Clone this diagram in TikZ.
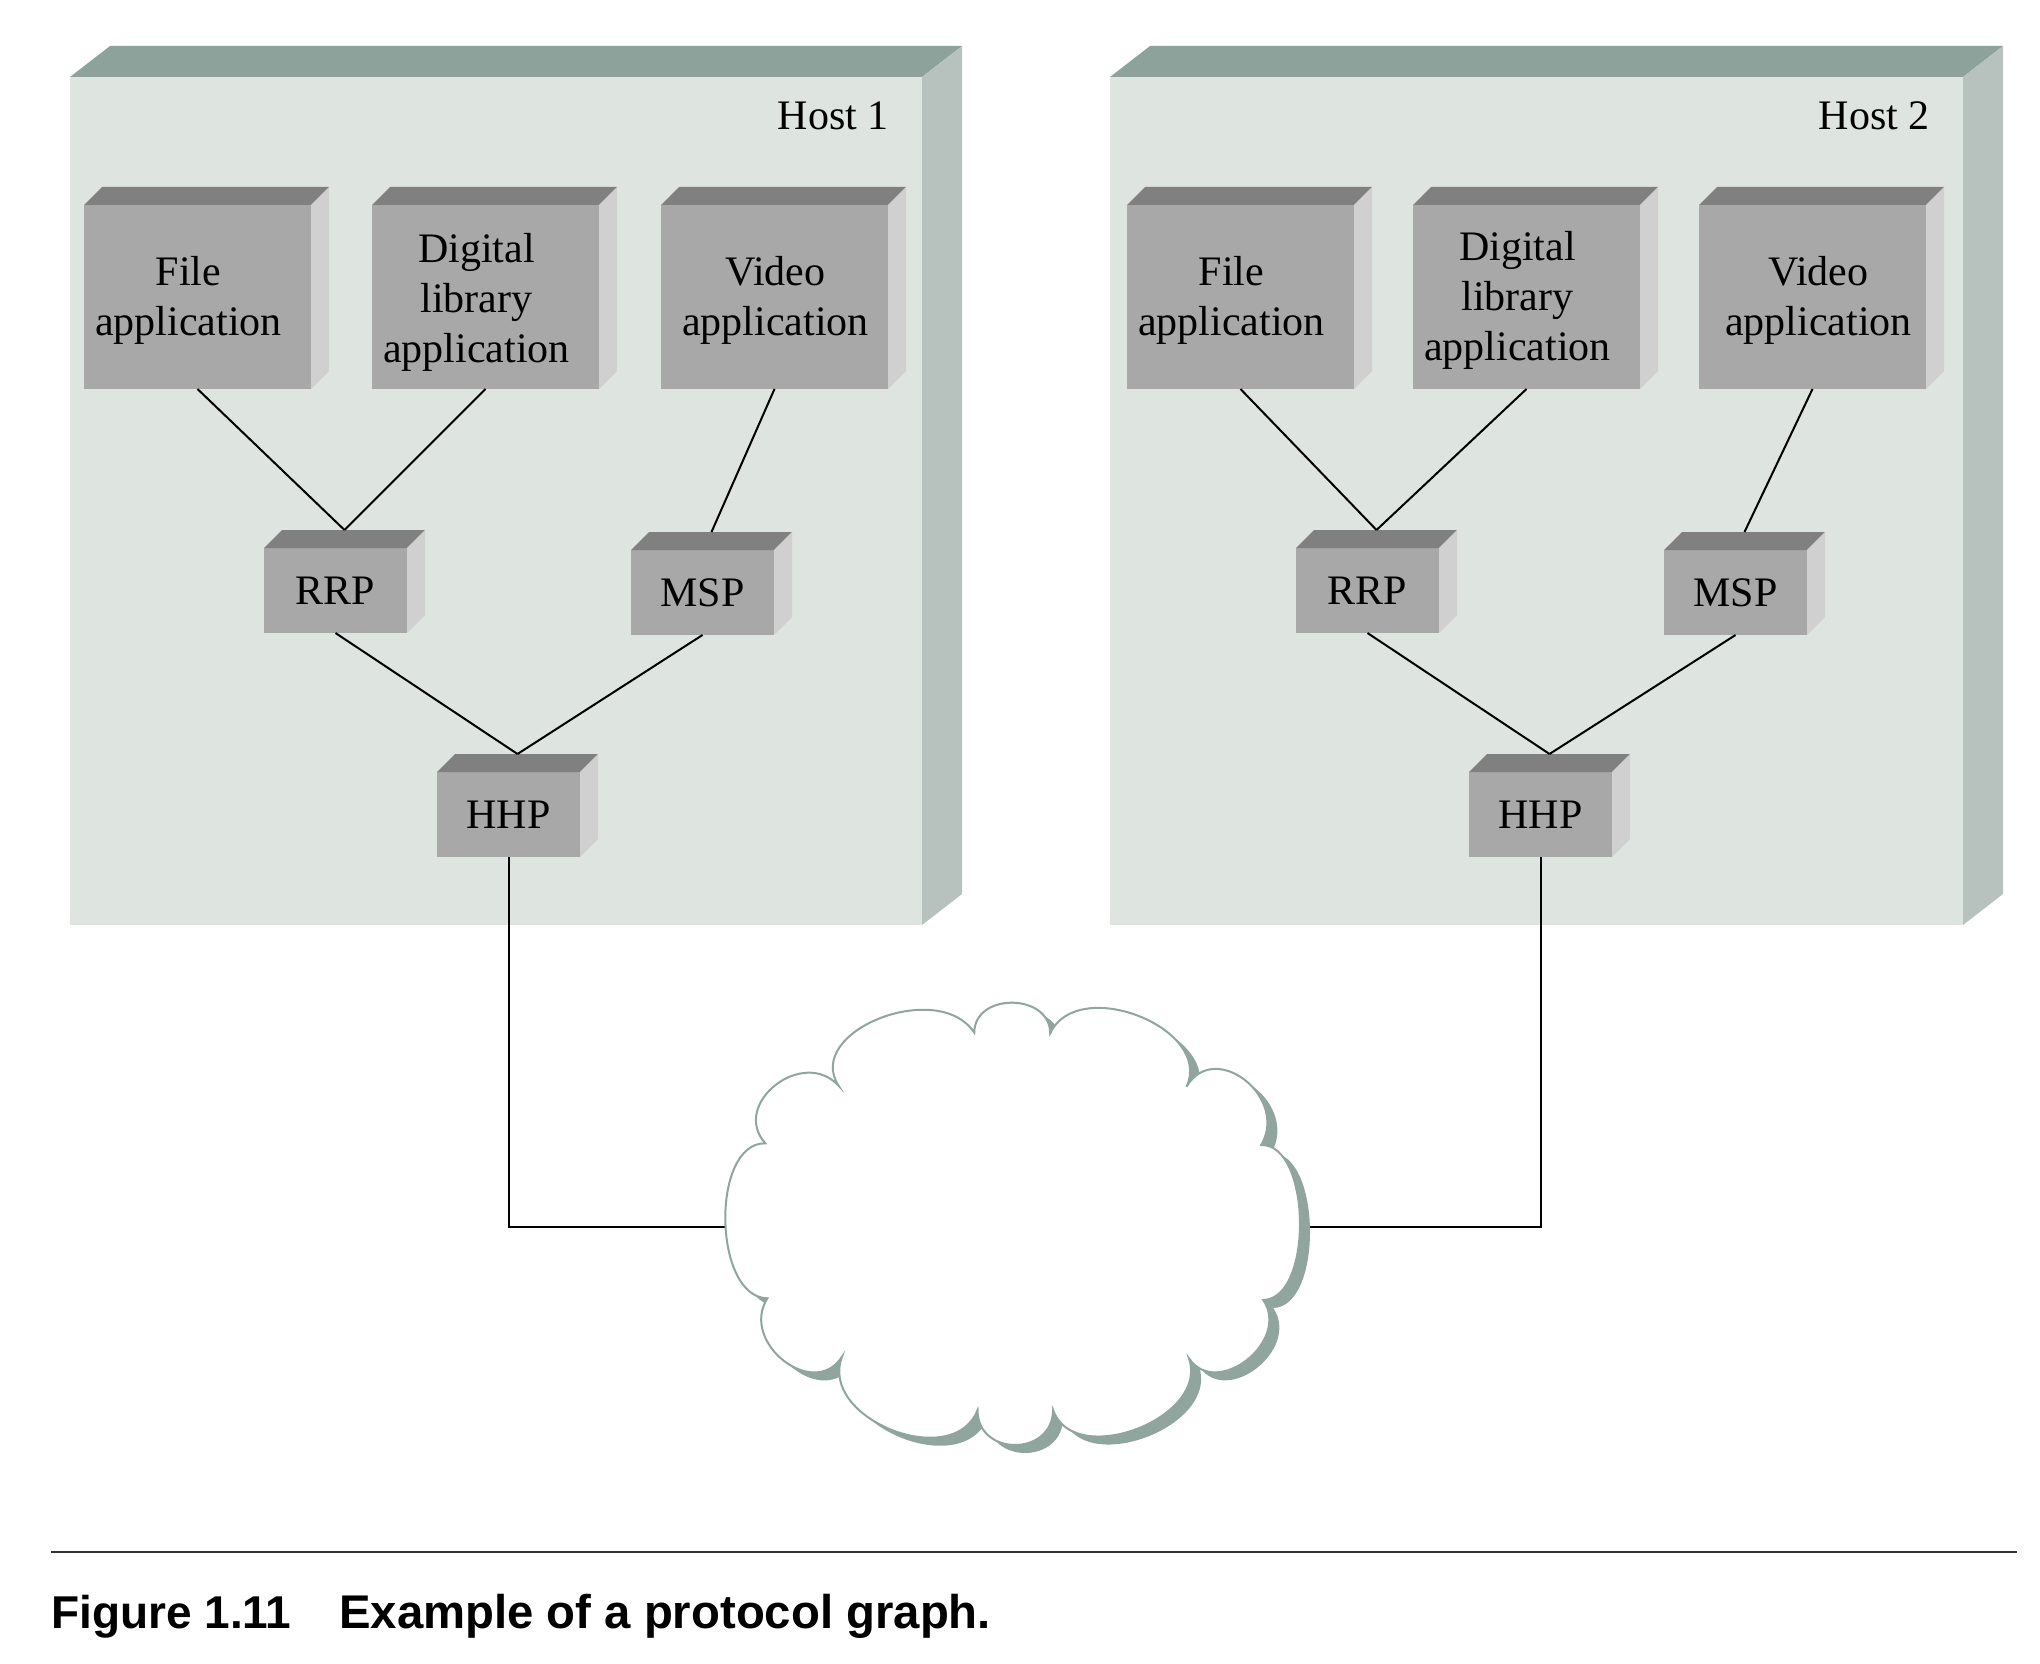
\documentclass[tikz,border=0pt]{standalone}
\usepackage{fontspec}
\usepackage{graphicx}
\setmainfont{Liberation Serif}
\newfontfamily\capfont{Liberation Sans}
\usetikzlibrary{calc}
\definecolor{hostfront}{HTML}{DEE4E0}
\definecolor{hosttop}{HTML}{8DA29B}
\definecolor{hostside}{HTML}{B7C2BE}
\definecolor{boxfront}{HTML}{A8A8A8}
\definecolor{boxtop}{HTML}{808080}
\definecolor{boxside}{HTML}{D0D0D0}
\definecolor{cloudc}{HTML}{8FA59E}
\newcommand\mkfaces[4]{%
  \fill[#4top] (#1.north west) -- ++(#2,-#3) -- ($(#1.north east)+(#2,-#3)$) -- (#1.north east) -- cycle;
  \fill[#4side] (#1.north east) -- ($(#1.north east)+(#2,-#3)$) -- ($(#1.south east)+(#2,-#3)$) -- (#1.south east) -- cycle;
}
\def\cloudpath{(340,318) .. controls (252,154) and (584,-6) .. (672,158)
 .. controls (672,36.7) and (858,38.7) .. (858,160)
 .. controls (924.7,-16) and (1258.7,144) .. (1192,320)
 .. controls (1260.7,176.7) and (1443.7,351.7) .. (1375,495)
 .. controls (1498.3,491.7) and (1503.3,956.7) .. (1380,960)
 .. controls (1448,1083.3) and (1266,1258.3) .. (1198,1135)
 .. controls (1249.3,1314.3) and (916.3,1469.3) .. (865,1290)
 .. controls (864.3,1430) and (679.3,1430) .. (680,1290)
 .. controls (621.3,1476.7) and (289.3,1316.7) .. (348,1130)
 .. controls (279.3,1262.7) and (96.3,1087.7) .. (165,955)
 .. controls (31,951.7) and (26,486.7) .. (160,490)
 .. controls (73.3,371.3) and (253.3,199.3) .. (340,318) -- cycle}
\begin{document}
\begin{tikzpicture}[x=1pt,y=-1pt,
  hostbox/.style={fill=hostfront, inner sep=0, outer sep=0, anchor=north west, minimum height=848pt},
  appbox/.style={fill=boxfront, inner sep=0, outer sep=0, anchor=north west, minimum width=227pt, minimum height=184pt},
  apptext/.style={inner sep=0, align=center, font={\fontsize{42}{50}\selectfont}},
  protobox/.style={fill=boxfront, inner sep=0, outer sep=0, anchor=north west, minimum width=143pt, minimum height=85pt, font={\fontsize{42}{50}\selectfont}},
  hostlabel/.style={inner sep=0, anchor=base east, font={\fontsize{42}{50}\selectfont}},
  captext/.style={inner sep=0, anchor=base west, font={\capfont\bfseries\fontsize{46}{52}\selectfont}},
  conn/.style={line width=2pt, black},
  cloudline/.style={line width=2pt, draw=cloudc, fill=white}]
\useasboundingbox (0,0) rectangle (2040,1664);
% hosts
\node[hostbox, minimum width=852pt] (h1) at (70,77) {};
\node[hostbox, minimum width=853pt] (h2) at (1110,77) {};
\mkfaces{h1}{40}{31}{host}
\mkfaces{h2}{40}{31}{host}
\node[hostlabel] (h1l) at (889,130) {Host 1};
\node[hostlabel] (h2l) at (1930,130) {Host 2};
% application boxes
\node[appbox] (f1) at (84,205) {};
\node[appbox] (d1) at (372,205) {};
\node[appbox] (v1) at (661,205) {};
\node[appbox] (f2) at (1127,205) {};
\node[appbox] (d2) at (1413,205) {};
\node[appbox] (v2) at (1699,205) {};
\node[apptext] (f1x) at ($(f1.center)+(-9,3)$) {File\\application};
\node[apptext] (d1x) at ($(d1.center)+(-9,5)$) {Digital\\library\\application};
\node[apptext] (v1x) at ($(v1.center)+(1,3)$) {Video\\application};
\node[apptext] (f2x) at ($(f2.center)+(-9,3)$) {File\\application};
\node[apptext] (d2x) at ($(d2.center)+(-9,3)$) {Digital\\library\\application};
\node[apptext] (v2x) at ($(v2.center)+(6,3)$) {Video\\application};
% protocol boxes
\node[protobox] (r1) at (264,548) {\raisebox{-3pt}{RRP}};
\node[protobox] (m1) at (631,550) {\raisebox{-3pt}{MSP}};
\node[protobox] (hh1) at (437,772) {\raisebox{-3pt}{HHP}};
\node[protobox] (r2) at (1296,548) {\raisebox{-3pt}{RRP}};
\node[protobox] (m2) at (1664,550) {\raisebox{-3pt}{MSP}};
\node[protobox] (hh2) at (1469,772) {\raisebox{-3pt}{HHP}};
\foreach \b in {f1,d1,v1,f2,d2,v2,r1,m1,hh1,r2,m2,hh2}{\mkfaces{\b}{18}{18}{box}}
\foreach \b in {r1,m1,hh1,r2,m2,hh2}{\coordinate (\b t) at ($(\b.north)+(9,-18)$);}
% connectors
\draw[conn] (f1.south) -- (r1t);
\draw[conn] (d1.south) -- (r1t);
\draw[conn] (v1.south) -- (m1t);
\draw[conn] (r1.south) -- (hh1t);
\draw[conn] (m1.south) -- (hh1t);
\draw[conn] (f2.south) -- (r2t);
\draw[conn] (d2.south) -- (r2t);
\draw[conn] (v2.south) -- (m2t);
\draw[conn] (r2.south) -- (hh2t);
\draw[conn] (m2.south) -- (hh2t);
\coordinate (cloudL) at (725,1227);
\coordinate (cloudR) at (1309,1227);
\draw[conn] (hh1.south) |- (cloudL);
\draw[conn] (hh2.south) |- (cloudR);
% cloud
\begin{scope}[shift={(700,980)}, xscale=0.40816, yscale=0.33333]
  \fill[cloudc, shift={(24.5,24)}] \cloudpath;
  \path[cloudline] \cloudpath;
\end{scope}
% caption
\draw[line width=2pt, black!80] (51,1552) -- (2017,1552);
\node[captext] (capA) at (51,1628) {Figure 1.11};
\node[captext, font={\capfont\bfseries\fontsize{47.3}{52}\selectfont}] (capB) at (339,1628) {Example of a protocol graph.};
\end{tikzpicture}
\end{document}
